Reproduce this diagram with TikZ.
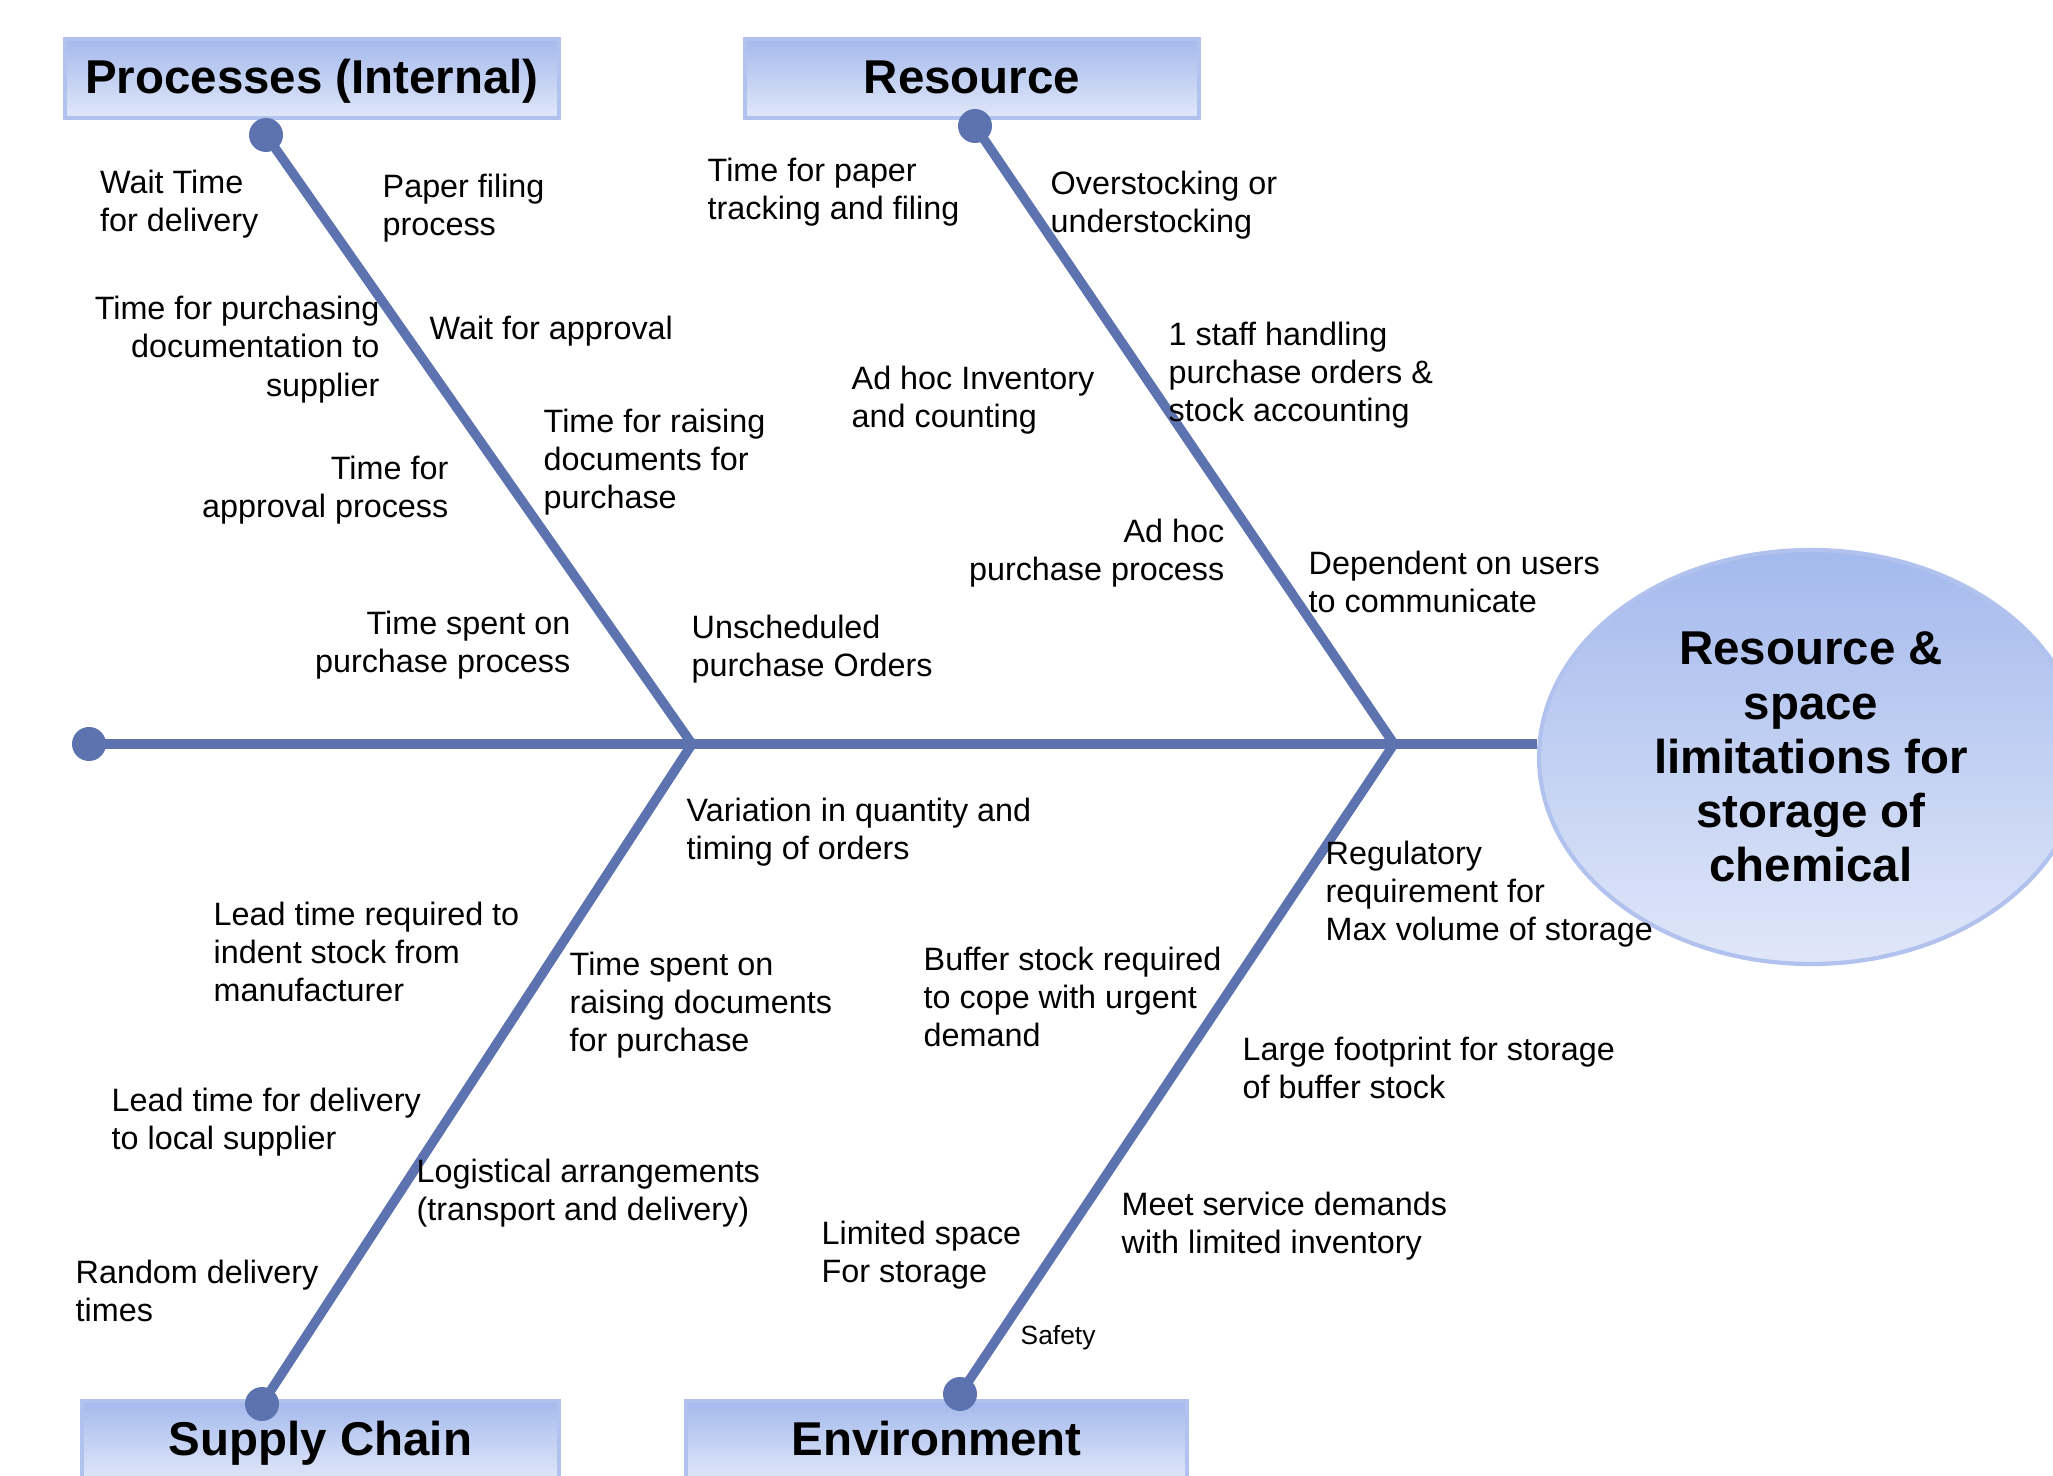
\documentclass[tikz,border=0pt]{standalone}
\usepackage{fontspec}
\setmainfont{Liberation Sans}
\usetikzlibrary{shapes.geometric}
\definecolor{bone}{RGB}{93,115,176}
\definecolor{boxtop}{RGB}{164,185,236}
\definecolor{boxbot}{RGB}{224,231,249}
\definecolor{boxedge}{RGB}{178,194,238}

\begin{document}
\begin{tikzpicture}[
    bone/.style={draw=bone, line width=2.7pt},
    knob/.style={circle, fill=bone, inner sep=0pt, minimum size=0.34cm},
    catbox/.style={rectangle, top color=boxtop, bottom color=boxbot, draw=boxedge, line width=1.2pt,
      minimum height=0.79cm, text height=2.1ex, text depth=0.45ex,
      font=\fontsize{13.5}{16}\selectfont\bfseries},
    cause/.style={anchor=west, align=left, inner sep=0pt, font=\fontsize{9.2}{10.9}\selectfont},
    causer/.style={cause, anchor=east, align=right},
  ]
      \useasboundingbox (0,0) rectangle (20.53,14.75);
      \node[catbox, minimum width=4.94cm] (proc) at (3.12,13.965) {Processes (Internal)};
      \node[catbox, minimum width=4.54cm] (res) at (9.72,13.965) {Resource};
      \node[catbox, minimum width=4.77cm] (supply) at (3.205,0.345) {Supply Chain};
      \node[catbox, minimum width=5.01cm] (env) at (9.365,0.345) {Environment};
      \node[ellipse, top color=boxtop, bottom color=boxbot, draw=boxedge, line width=1.2pt,
        minimum width=5.44cm, minimum height=4.14cm, align=center,
        font=\fontsize{13.5}{15.4}\selectfont\bfseries] (head) at (18.11,7.18)
        {Resource \&\\space\\limitations for\\storage of\\chemical};

      \coordinate (pj) at (6.92,7.31);
      \coordinate (rj) at (13.94,7.31);
      \node[knob] (tail) at (0.89,7.31) {};
      \node[knob] (pknob) at (2.66,13.40) {};
      \node[knob] (rknob) at (9.75,13.49) {};
      \node[knob] (sknob) at (2.62,0.71) {};
      \node[knob] (eknob) at (9.60,0.81) {};
      \draw[bone, line width=3pt] (tail.center) -- (tail.center -| head.west);
      \draw[bone] (pknob.center) -- (pj);
      \draw[bone] (rknob.center) -- (rj);
      \draw[bone] (sknob.center) -- (pj);
      \draw[bone] (eknob.center) -- (rj);

      \node[cause] (waitdel) at (0.995,12.71) {Wait Time\\for delivery};
      \node[cause] (paper) at (3.82,12.67) {Paper filing\\process};
      \node[causer] (purchdoc) at (3.80,11.255) {Time for purchasing\\documentation to\\supplier};
      \node[cause] (waitappr) at (4.29,11.44) {Wait for approval};
      \node[causer] (apprproc) at (4.49,9.85) {Time for\\approval process};
      \node[cause] (raisedoc) at (5.43,10.13) {Time for raising\\documents for\\purchase};
      \node[causer] (spentpurch) at (5.71,8.30) {Time spent on\\purchase process};
      \node[cause] (unsched) at (6.91,8.26) {Unscheduled\\purchase Orders};

      \node[cause] (papertrack) at (7.07,12.83) {Time for paper\\tracking and filing};
      \node[cause] (overstock) at (10.50,12.70) {Overstocking or\\understocking};
      \node[cause] (adhocinv) at (8.51,10.75) {Ad hoc Inventory\\and counting};
      \node[cause] (staff) at (11.68,11.00) {1 staff handling\\purchase orders \&\\stock accounting};
      \node[causer] (adhocpurch) at (12.25,9.22) {Ad hoc\\purchase process};
      \node[cause] (depend) at (13.08,8.93) {Dependent on users\\to communicate};

      \node[cause] (variation) at (6.86,6.43) {Variation in quantity and\\timing of orders};
      \node[cause] (leadindent) at (2.13,5.23) {Lead time required to\\indent stock from\\manufacturer};
      \node[cause] (spentraise) at (5.69,4.70) {Time spent on\\raising documents\\for purchase};
      \node[cause] (leadlocal) at (1.11,3.53) {Lead time for delivery\\to local supplier};
      \node[cause] (logist) at (4.16,2.82) {Logistical arrangements\\(transport and delivery)};
      \node[cause] (random) at (0.75,1.84) {Random delivery\\times};

      \node[cause] (regul) at (13.25,5.81) {Regulatory\\requirement for\\Max volume of storage};
      \node[cause] (buffer) at (9.23,4.78) {Buffer stock required\\to cope with urgent\\demand};
      \node[cause] (footprint) at (12.42,4.07) {Large footprint for storage\\of buffer stock};
      \node[cause] (meetdem) at (11.21,2.49) {Meet service demands\\with limited inventory};
      \node[cause] (limspace) at (8.21,2.20) {Limited space\\For storage};
      \node[cause, font=\fontsize{7.5}{9}\selectfont] (safety) at (10.20,1.37) {Safety};
    \end{tikzpicture}
\end{document}
